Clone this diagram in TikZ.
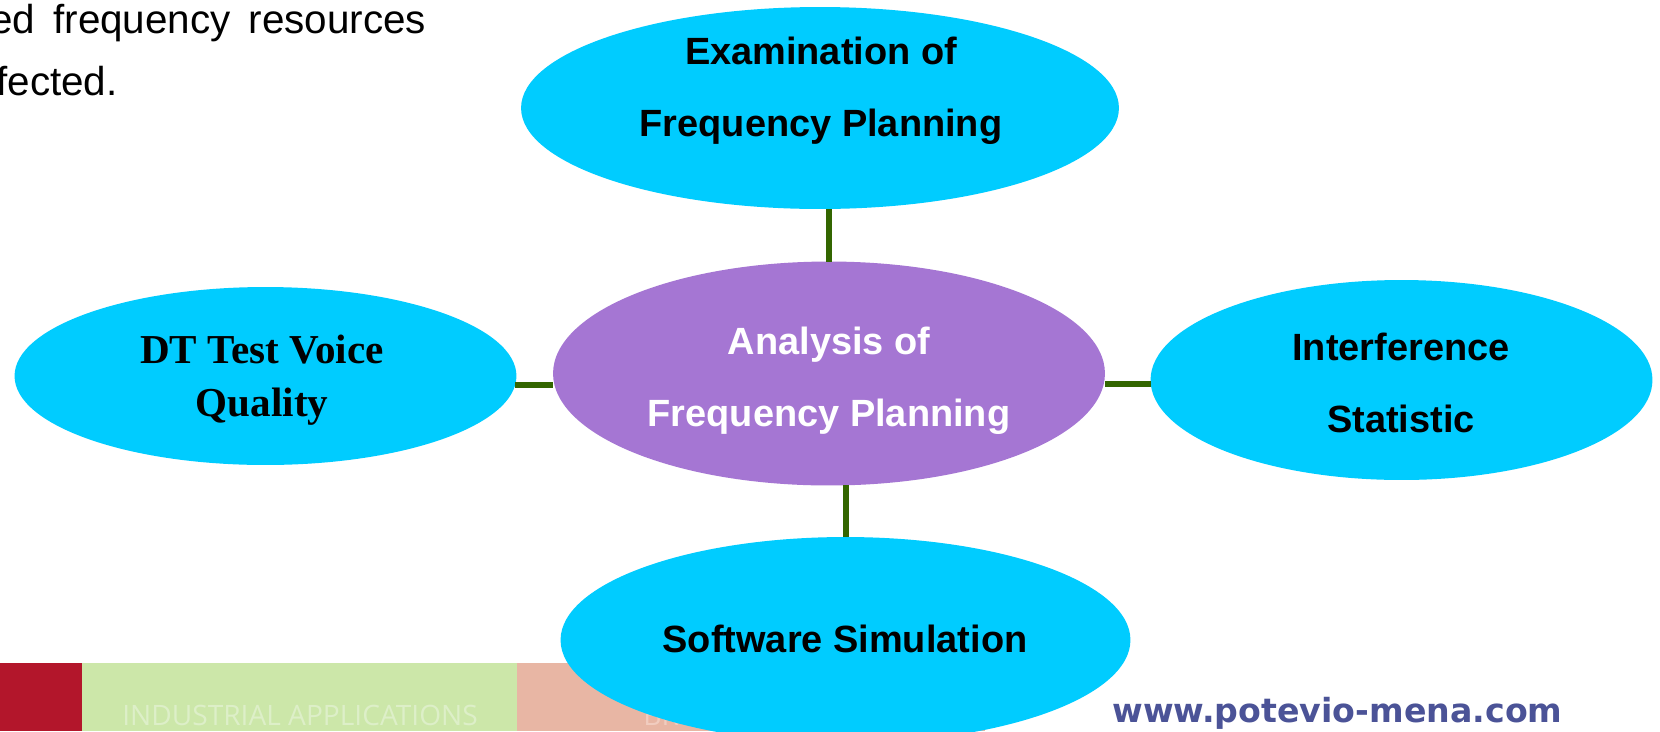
\documentclass[tikz,border=0pt]{standalone}
\usepackage{fontspec}
\setmainfont{Liberation Sans}
\newfontfamily\timesfont{Liberation Serif}
\newfontfamily\webfont{DejaVu Sans}
\newfontfamily\barfont{Open Sans}
\usetikzlibrary{shapes.geometric}
\definecolor{bubblecyan}{HTML}{00CCFF}
\definecolor{hubpurple}{HTML}{A576D3}
\definecolor{linkgreen}{HTML}{336600}
\definecolor{barred}{HTML}{B3162B}
\definecolor{bargreen}{HTML}{CCE7A9}
\definecolor{bargreentext}{HTML}{DDEFC8}
\definecolor{barsalmon}{HTML}{E8B6A4}
\definecolor{barsalmontext}{HTML}{F1CCBF}
\definecolor{webblue}{HTML}{4B5397}
\begin{document}
\begin{tikzpicture}[x=0.02cm, y=-0.02cm,
    bubble/.style={ellipse, fill=bubblecyan, inner sep=0pt, outer sep=0pt},
    hub/.style={bubble, fill=hubpurple},
    lbl/.style={align=center, inner sep=0pt, font=\bfseries\fontsize{21.6}{41}\selectfont},
    plain/.style={anchor=base west, inner sep=0pt},
    link/.style={draw=linkgreen, line width=0.12cm}]
  \useasboundingbox[fill=white] (0,0) rectangle (1660,731);
  % footer
  \fill[barred] (0,663) rectangle (82,731);
  \fill[bargreen] (82,663) rectangle (517,731);
  \fill[barsalmon] (517,663) rectangle (985,731);
  \node[plain, text=bargreentext, font=\barfont\fontsize{16}{16}\selectfont] (industrial) at (122,725) {INDUSTRIAL APPLICATIONS};
  \node[plain, text=barsalmontext, font=\barfont\fontsize{16}{16}\selectfont] (broadband) at (643,725) {BROADBAND};
  \node[plain, text=webblue, font=\webfont\bfseries\fontsize{18.9}{20}\selectfont] (web) at (1112,722) {www.potevio-mena.com};
  % text above
  \begin{scope}
    \clip (0,0) rectangle (520,130);
    \node[plain, font=\fontsize{23}{23}\selectfont] (intro1) at (-10,33) {\makebox[8.72cm][s]{ed frequency resources}};
    \node[plain, font=\fontsize{23}{23}\selectfont] (intro2) at (-4,95) {fected.};
  \end{scope}
  % bubbles
  \node[hub, minimum width=11.04cm, minimum height=4.48cm] (analysis) at (829,373.5) {};
  \node[bubble, minimum width=11.96cm, minimum height=4.04cm] (exam) at (820,108) {};
  \node[bubble, minimum width=10.04cm, minimum height=3.56cm] (voice) at (265.5,376) {};
  \node[bubble, minimum width=10.04cm, minimum height=4cm] (interf) at (1401.5,380) {};
  \node[bubble, minimum width=11.4cm, minimum height=4.12cm] (soft) at (845.5,640) {};
  \node[lbl, text=white] (analysis-txt) at (829,381) {Analysis of\\Frequency Planning};
  \node[lbl] (exam-txt) at (821,91) {Examination of\\Frequency Planning};
  \node[lbl, font=\timesfont\bfseries\fontsize{23.4}{30}\selectfont] (voice-txt) at (262,380) {DT Test Voice\\Quality};
  \node[lbl] (interf-txt) at (1401,383) {Interference\\Statistic};
  \node[lbl] (soft-txt) at (845,639) {Software Simulation};
  % links
  \draw[link] (analysis.north) -- (analysis.north |- exam.south);
  \draw[link] (soft.north) -- (soft.north |- analysis.south);
  \draw[link] (voice.-2) -- (voice.-2 -| analysis.west);
  \draw[link] (interf.181) -- (interf.181 -| analysis.east);
\end{tikzpicture}
\end{document}
